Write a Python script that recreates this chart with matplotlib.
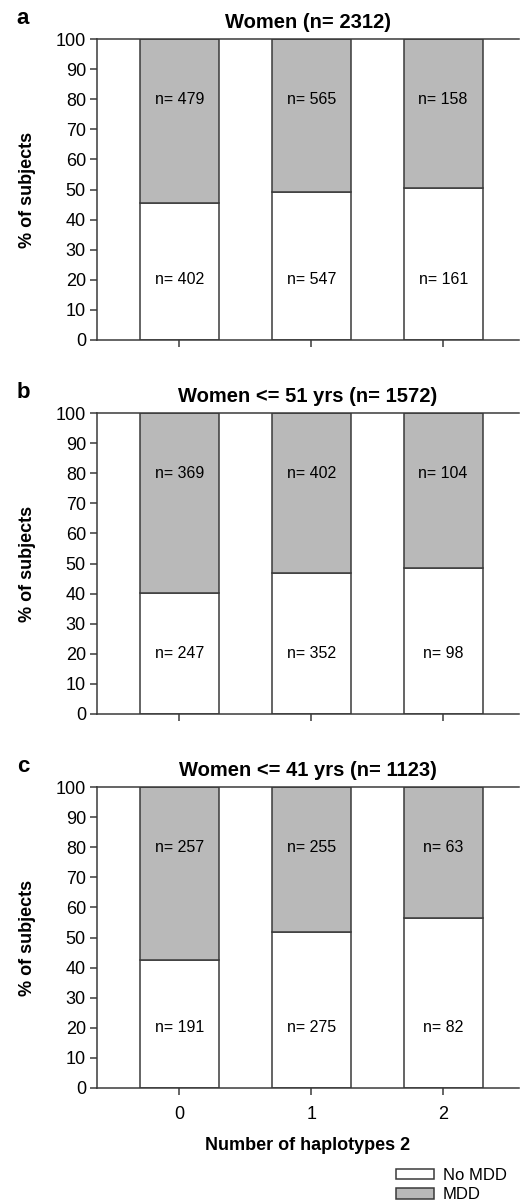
import numpy as np
import matplotlib
matplotlib.use('Agg')
import matplotlib.pyplot as plt
from matplotlib.patches import Patch

plt.rcParams['font.family'] = ['Liberation Sans', 'DejaVu Sans']

# Haplotype counts and subject counts per panel
haplotypes = [0, 1, 2]
panel_letters = ['a', 'b', 'c']
titles = ['Women (n= 2312)', 'Women <= 51 yrs (n= 1572)', 'Women <= 41 yrs (n= 1123)']
no_mdd_a = [402, 547, 161]
mdd_a = [479, 565, 158]
no_mdd_b = [247, 352, 98]
mdd_b = [369, 402, 104]
no_mdd_c = [191, 275, 82]
mdd_c = [257, 255, 63]
no_mdd_all = [no_mdd_a, no_mdd_b, no_mdd_c]
mdd_all = [mdd_a, mdd_b, mdd_c]

W, H = 521, 1203
fig = plt.figure(figsize=(W / 100, H / 100), dpi=100)

edge = '#3a3a3a'
gray = '#b9b9b9'
left = 97 / W
width = 422 / W
tops = [39, 413, 787]
ax_h = 301

for i in range(3):
    bottom = 1 - (tops[i] + ax_h) / H
    ax = fig.add_axes([left, bottom, width, ax_h / H])
    no = np.array(no_mdd_all[i], dtype=float)
    yes = np.array(mdd_all[i], dtype=float)
    total = no + yes
    pct_no = no / total * 100
    pct_yes = yes / total * 100
    x = np.array(haplotypes)
    ax.bar(x, pct_no, width=0.6, color='white', edgecolor=edge, linewidth=1.1)
    ax.bar(x, pct_yes, width=0.6, bottom=pct_no, color=gray, edgecolor=edge, linewidth=1.1)
    for j in range(3):
        ax.text(x[j], 20, 'n= %d' % no[j], ha='center', va='center', fontsize=11.5)
        ax.text(x[j], 80, 'n= %d' % yes[j], ha='center', va='center', fontsize=11.5)

    ax.set_xlim(-0.625, 2.575)
    ax.set_ylim(0, 100)
    ax.set_yticks(range(0, 101, 10))
    ax.set_xticks(haplotypes)
    ax.tick_params(axis='both', direction='out', length=5, width=1.1, color=edge,
                   labelsize=13, pad=3)
    ax.tick_params(axis='x', pad=8)
    ax.spines['right'].set_visible(False)
    for s in ['left', 'top', 'bottom']:
        ax.spines[s].set_color(edge)
        ax.spines[s].set_linewidth(1.1)
    if i < 2:
        ax.set_xticklabels([])
    else:
        ax.set_xlabel('Number of haplotypes 2', fontsize=13, fontweight='bold', labelpad=10)
    ax.set_ylabel('% of subjects', fontsize=13, fontweight='bold')
    ax.yaxis.set_label_coords(-0.145, 0.5)
    ax.set_title(titles[i], fontsize=14.5, fontweight='bold', pad=8)
    fig.text(23 / W, 1 - (tops[i] - 21) / H, panel_letters[i], fontsize=16,
             fontweight='bold', ha='center', va='center')

handles = [Patch(facecolor='white', edgecolor=edge, linewidth=1.1, label='No MDD'),
           Patch(facecolor=gray, edgecolor=edge, linewidth=1.1, label='MDD')]
fig.legend(handles=handles, loc='upper left', bbox_to_anchor=(396 / W, 1 - 1168 / H),
           frameon=False, fontsize=12, borderpad=0, handlelength=2.3, handleheight=0.6,
           handletextpad=0.5, labelspacing=0.25, borderaxespad=0)

fig.savefig('out.png', dpi=100)
